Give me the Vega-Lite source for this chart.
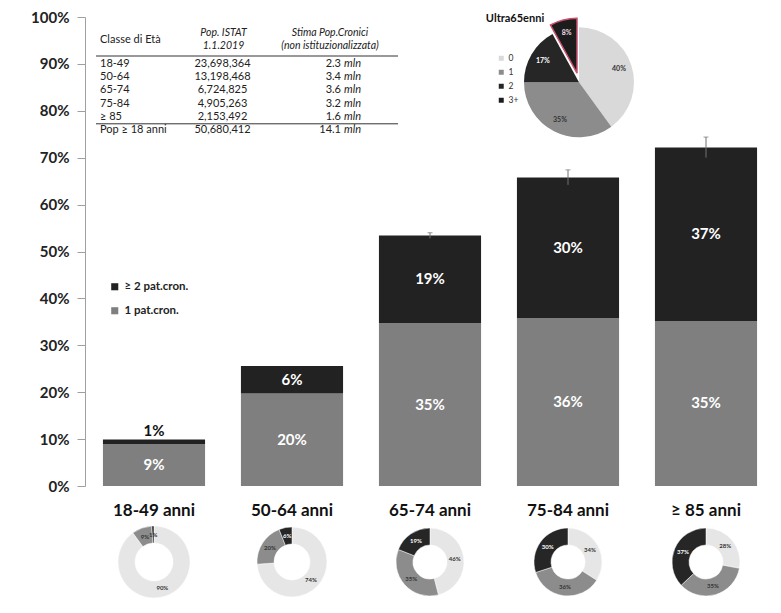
{
  "$schema": "https://vega.github.io/schema/vega-lite/v6.json",
  "width": 690,
  "height": 469,
  "autosize": {"type": "none"},
  "padding": {"left": 85, "top": 17, "right": 6, "bottom": 127},
  "background": "white",
  "config": {"view": {"stroke": null}, "font": "Lato", "text": {"font": "Lato"}},
  "datasets": {
    "bars": [
      {"age": "18-49 anni", "seg": "1 pat.cron.", "value": 0.089},
      {"age": "18-49 anni", "seg": "≥ 2 pat.cron.", "value": 0.010},
      {"age": "50-64 anni", "seg": "1 pat.cron.", "value": 0.197},
      {"age": "50-64 anni", "seg": "≥ 2 pat.cron.", "value": 0.059},
      {"age": "65-74 anni", "seg": "1 pat.cron.", "value": 0.347},
      {"age": "65-74 anni", "seg": "≥ 2 pat.cron.", "value": 0.187},
      {"age": "75-84 anni", "seg": "1 pat.cron.", "value": 0.358},
      {"age": "75-84 anni", "seg": "≥ 2 pat.cron.", "value": 0.300},
      {"age": "≥ 85 anni", "seg": "1 pat.cron.", "value": 0.352},
      {"age": "≥ 85 anni", "seg": "≥ 2 pat.cron.", "value": 0.370}
    ],
    "errs": [
      {"age": "65-74 anni", "lo": 0.528, "hi": 0.540},
      {"age": "75-84 anni", "lo": 0.642, "hi": 0.674},
      {"age": "≥ 85 anni", "lo": 0.700, "hi": 0.744}
    ],
    "donuts": [
      {"age": "18-49 anni", "k": "0", "value": 0.90},
      {"age": "18-49 anni", "k": "1", "value": 0.09},
      {"age": "18-49 anni", "k": "≥2", "value": 0.01},
      {"age": "50-64 anni", "k": "0", "value": 0.74},
      {"age": "50-64 anni", "k": "1", "value": 0.20},
      {"age": "50-64 anni", "k": "≥2", "value": 0.06},
      {"age": "65-74 anni", "k": "0", "value": 0.46},
      {"age": "65-74 anni", "k": "1", "value": 0.35},
      {"age": "65-74 anni", "k": "≥2", "value": 0.19},
      {"age": "75-84 anni", "k": "0", "value": 0.34},
      {"age": "75-84 anni", "k": "1", "value": 0.36},
      {"age": "75-84 anni", "k": "≥2", "value": 0.30},
      {"age": "≥ 85 anni", "k": "0", "value": 0.28},
      {"age": "≥ 85 anni", "k": "1", "value": 0.35},
      {"age": "≥ 85 anni", "k": "≥2", "value": 0.37}
    ],
    "pie": [
      {"k": "0", "value": 0.40},
      {"k": "1", "value": 0.35},
      {"k": "2", "value": 0.17},
      {"k": "3+", "value": 0.08}
    ],
    "table": [
      {"classe": "18-49", "pop": "23,698,364", "stima": 2.3},
      {"classe": "50-64", "pop": "13,198,468", "stima": 3.4},
      {"classe": "65-74", "pop": "6,724,825", "stima": 3.6},
      {"classe": "75-84", "pop": "4,905,263", "stima": 3.2},
      {"classe": "≥ 85", "pop": "2,153,492", "stima": 1.6},
      {"classe": "Pop ≥ 18 anni", "pop": "50,680,412", "stima": 14.1}
    ],
    "header": [
      {"col": "c1", "txt": "Classe di Età"},
      {"col": "c2", "txt": "Pop. ISTAT\n1.1.2019"},
      {"col": "c3", "txt": "Stima Pop.Cronici\n(non istituzionalizzata)"}
    ]
  },
  "layer": [
    {
      "layer": [
        {
          "data": {"name": "bars"},
          "mark": {"type": "bar"},
          "encoding": {
            "x": {"field": "age", "type": "nominal", "title": null,
              "scale": {"domain": ["18-49 anni", "50-64 anni", "65-74 anni", "75-84 anni", "≥ 85 anni"], "paddingInner": 0.26, "paddingOuter": 0.13},
              "axis": {"title": null, "domain": false, "ticks": false, "labelAngle": 0, "labelFont": "Lato", "labelFontWeight": "bold", "labelFontSize": 17, "labelColor": "#111", "labelPadding": 16}},
            "y": {"field": "value", "type": "quantitative", "stack": "zero", "title": null,
              "scale": {"domain": [0, 1], "nice": false},
              "axis": {"title": null, "format": ".0%", "values": [0, 0.1, 0.2, 0.3, 0.4, 0.5, 0.6, 0.7, 0.8, 0.9, 1], "grid": false, "labelFont": "Lato", "labelFontWeight": "bold", "labelFontSize": 15, "labelColor": "#222", "domainColor": "#a0a0a0", "tickColor": "#a0a0a0", "tickSize": 8, "labelPadding": 8}},
            "color": {"field": "seg", "type": "nominal",
              "scale": {"domain": ["≥ 2 pat.cron.", "1 pat.cron."], "range": ["#222222", "#7f7f7f"]},
              "legend": {"orient": "none", "legendX": 24, "legendY": 264, "title": null, "symbolType": "square", "symbolSize": 50, "symbolStrokeWidth": 0, "labelFont": "Lato", "labelFontWeight": "bold", "labelFontSize": 11.5, "labelColor": "#222", "rowPadding": 11}},
            "order": {"field": "seg", "type": "nominal"}
          }
        },
        {
          "data": {"name": "bars"},
          "mark": {"type": "text", "font": "Lato", "fontWeight": "bold", "fontSize": 15, "color": "white", "baseline": "middle"},
          "encoding": {
            "x": {"field": "age", "type": "nominal", "title": null},
            "y": {"field": "value", "type": "quantitative", "stack": "zero", "bandPosition": 0.5, "title": null},
            "detail": {"field": "seg"},
            "order": {"field": "seg", "type": "nominal"},
            "text": {"condition": {"test": "datum.age === '18-49 anni' && datum.seg === '≥ 2 pat.cron.'", "value": ""}, "field": "value", "type": "quantitative", "format": ".0%"}
          }
        },
        {
          "data": {"name": "bars"},
          "mark": {"type": "text", "font": "Lato", "fontWeight": "bold", "fontSize": 15, "color": "#111", "baseline": "middle", "dy": -9},
          "encoding": {
            "x": {"field": "age", "type": "nominal", "title": null},
            "y": {"field": "value", "type": "quantitative", "stack": "zero", "bandPosition": 1, "title": null},
            "detail": {"field": "seg"},
            "order": {"field": "seg", "type": "nominal"},
            "text": {"condition": {"test": "!(datum.age === '18-49 anni' && datum.seg === '≥ 2 pat.cron.')", "value": ""}, "field": "value", "type": "quantitative", "format": ".0%"}
          }
        },
        {
          "data": {"name": "errs"},
          "mark": {"type": "rule", "color": "#707070", "strokeWidth": 1},
          "encoding": {
            "x": {"field": "age", "type": "nominal", "title": null},
            "y": {"field": "lo", "type": "quantitative", "title": null},
            "y2": {"field": "hi"}
          }
        },
        {
          "data": {"name": "errs"},
          "mark": {"type": "tick", "color": "#707070", "thickness": 1, "size": 5},
          "encoding": {
            "x": {"field": "age", "type": "nominal", "title": null},
            "y": {"field": "hi", "type": "quantitative", "title": null}
          }
        },
        {
          "data": {"name": "donuts"},
          "transform": [{"filter": "datum.age === '18-49 anni'"}],
          "layer": [
            {"mark": {"type": "arc", "radius": 36, "innerRadius": 19, "stroke": "white", "strokeWidth": 0.5},
             "encoding": {"x": {"field": "age", "type": "nominal", "title": null}, "y": {"datum": -0.162}, "theta": {"field": "value", "type": "quantitative", "stack": true}, "color": {"field": "k", "type": "nominal", "scale": {"domain": ["0", "1", "≥2"], "range": ["#e6e6e6", "#8c8c8c", "#262626"]}, "legend": null}, "order": {"field": "k", "type": "nominal"}}},
            {"mark": {"type": "text", "radius": 27, "fontSize": 6, "fontWeight": "bold", "font": "Lato", "baseline": "middle"},
             "encoding": {"x": {"field": "age", "type": "nominal", "title": null}, "y": {"datum": -0.162}, "theta": {"field": "value", "type": "quantitative", "stack": true}, "detail": {"field": "k"}, "order": {"field": "k", "type": "nominal"}, "text": {"field": "value", "type": "quantitative", "format": ".0%"}, "color": {"condition": {"test": "datum.k === '≥2' && datum.value >= 0.05", "value": "white"}, "value": "#333333"}}}
          ]
        },
        {
          "data": {"name": "donuts"},
          "transform": [{"filter": "datum.age === '50-64 anni'"}],
          "layer": [
            {"mark": {"type": "arc", "radius": 35, "innerRadius": 18, "stroke": "white", "strokeWidth": 0.5},
             "encoding": {"x": {"field": "age", "type": "nominal", "title": null}, "y": {"datum": -0.162}, "theta": {"field": "value", "type": "quantitative", "stack": true}, "color": {"field": "k", "type": "nominal", "scale": {"domain": ["0", "1", "≥2"], "range": ["#e6e6e6", "#8c8c8c", "#262626"]}, "legend": null}, "order": {"field": "k", "type": "nominal"}}},
            {"mark": {"type": "text", "radius": 26, "fontSize": 6, "fontWeight": "bold", "font": "Lato", "baseline": "middle"},
             "encoding": {"x": {"field": "age", "type": "nominal", "title": null}, "y": {"datum": -0.162}, "theta": {"field": "value", "type": "quantitative", "stack": true}, "detail": {"field": "k"}, "order": {"field": "k", "type": "nominal"}, "text": {"field": "value", "type": "quantitative", "format": ".0%"}, "color": {"condition": {"test": "datum.k === '≥2' && datum.value >= 0.05", "value": "white"}, "value": "#333333"}}}
          ]
        },
        {
          "data": {"name": "donuts"},
          "transform": [{"filter": "datum.age === '65-74 anni'"}],
          "layer": [
            {"mark": {"type": "arc", "radius": 34, "innerRadius": 17, "stroke": "white", "strokeWidth": 0.5},
             "encoding": {"x": {"field": "age", "type": "nominal", "title": null}, "y": {"datum": -0.162}, "theta": {"field": "value", "type": "quantitative", "stack": true}, "color": {"field": "k", "type": "nominal", "scale": {"domain": ["0", "1", "≥2"], "range": ["#e6e6e6", "#8c8c8c", "#262626"]}, "legend": null}, "order": {"field": "k", "type": "nominal"}}},
            {"mark": {"type": "text", "radius": 25, "fontSize": 6, "fontWeight": "bold", "font": "Lato", "baseline": "middle"},
             "encoding": {"x": {"field": "age", "type": "nominal", "title": null}, "y": {"datum": -0.162}, "theta": {"field": "value", "type": "quantitative", "stack": true}, "detail": {"field": "k"}, "order": {"field": "k", "type": "nominal"}, "text": {"field": "value", "type": "quantitative", "format": ".0%"}, "color": {"condition": {"test": "datum.k === '≥2' && datum.value >= 0.05", "value": "white"}, "value": "#333333"}}}
          ]
        },
        {
          "data": {"name": "donuts"},
          "transform": [{"filter": "datum.age === '75-84 anni'"}],
          "layer": [
            {"mark": {"type": "arc", "radius": 34, "innerRadius": 17, "stroke": "white", "strokeWidth": 0.5},
             "encoding": {"x": {"field": "age", "type": "nominal", "title": null}, "y": {"datum": -0.162}, "theta": {"field": "value", "type": "quantitative", "stack": true}, "color": {"field": "k", "type": "nominal", "scale": {"domain": ["0", "1", "≥2"], "range": ["#e6e6e6", "#8c8c8c", "#262626"]}, "legend": null}, "order": {"field": "k", "type": "nominal"}}},
            {"mark": {"type": "text", "radius": 25, "fontSize": 6, "fontWeight": "bold", "font": "Lato", "baseline": "middle"},
             "encoding": {"x": {"field": "age", "type": "nominal", "title": null}, "y": {"datum": -0.162}, "theta": {"field": "value", "type": "quantitative", "stack": true}, "detail": {"field": "k"}, "order": {"field": "k", "type": "nominal"}, "text": {"field": "value", "type": "quantitative", "format": ".0%"}, "color": {"condition": {"test": "datum.k === '≥2' && datum.value >= 0.05", "value": "white"}, "value": "#333333"}}}
          ]
        },
        {
          "data": {"name": "donuts"},
          "transform": [{"filter": "datum.age === '≥ 85 anni'"}],
          "layer": [
            {"mark": {"type": "arc", "radius": 34, "innerRadius": 17, "stroke": "white", "strokeWidth": 0.5},
             "encoding": {"x": {"field": "age", "type": "nominal", "title": null}, "y": {"datum": -0.162}, "theta": {"field": "value", "type": "quantitative", "stack": true}, "color": {"field": "k", "type": "nominal", "scale": {"domain": ["0", "1", "≥2"], "range": ["#e6e6e6", "#8c8c8c", "#262626"]}, "legend": null}, "order": {"field": "k", "type": "nominal"}}},
            {"mark": {"type": "text", "radius": 25, "fontSize": 6, "fontWeight": "bold", "font": "Lato", "baseline": "middle"},
             "encoding": {"x": {"field": "age", "type": "nominal", "title": null}, "y": {"datum": -0.162}, "theta": {"field": "value", "type": "quantitative", "stack": true}, "detail": {"field": "k"}, "order": {"field": "k", "type": "nominal"}, "text": {"field": "value", "type": "quantitative", "format": ".0%"}, "color": {"condition": {"test": "datum.k === '≥2' && datum.value >= 0.05", "value": "white"}, "value": "#333333"}}}
          ]
        },
        {
          "data": {"name": "pie"},
          "layer": [
            {"mark": {"type": "arc", "radius": 55, "xOffset": 11},
             "encoding": {"x": {"datum": "75-84 anni"}, "y": {"datum": 0.861}, "theta": {"field": "value", "type": "quantitative", "stack": true},
               "color": {"field": "k", "type": "nominal", "scale": {"domain": ["0", "1", "2", "3+"], "range": ["#d9d9d9", "#8c8c8c", "#262626", "#1c1c1c"]},
                 "legend": {"orient": "none", "legendX": 412, "legendY": 37, "title": null, "symbolType": "square", "symbolSize": 25, "symbolStrokeWidth": 0, "labelFont": "Lato", "labelFontSize": 8.5, "labelColor": "#333", "labelOffset": 3, "rowPadding": 5}},
               "order": {"field": "k", "type": "nominal"},
               "opacity": {"condition": {"test": "datum.k === '3+'", "value": 0}, "value": 1}}},
            {"mark": {"type": "arc", "radius": 55, "xOffset": 9, "yOffset": -9, "stroke": "#c8506e", "strokeWidth": 1.5},
             "encoding": {"x": {"datum": "75-84 anni"}, "y": {"datum": 0.861}, "theta": {"field": "value", "type": "quantitative", "stack": true},
               "color": {"field": "k", "type": "nominal"},
               "order": {"field": "k", "type": "nominal"},
               "opacity": {"condition": {"test": "datum.k !== '3+'", "value": 0}, "value": 1}}},
            {"mark": {"type": "text", "radius": 42, "xOffset": 11, "fontSize": 7, "fontWeight": "bold", "font": "Lato", "baseline": "middle"},
             "encoding": {"x": {"datum": "75-84 anni"}, "y": {"datum": 0.861}, "theta": {"field": "value", "type": "quantitative", "stack": true},
               "detail": {"field": "k"}, "order": {"field": "k", "type": "nominal"},
               "text": {"condition": {"test": "datum.k === '3+'", "value": ""}, "field": "value", "type": "quantitative", "format": ".0%"},
               "color": {"condition": {"test": "datum.k === '2'", "value": "white"}, "value": "#333333"}}},
            {"mark": {"type": "text", "radius": 42, "xOffset": 9, "yOffset": -9, "fontSize": 7, "fontWeight": "bold", "font": "Lato", "baseline": "middle", "color": "#f0dde2"},
             "encoding": {"x": {"datum": "75-84 anni"}, "y": {"datum": 0.861}, "theta": {"field": "value", "type": "quantitative", "stack": true},
               "detail": {"field": "k"}, "order": {"field": "k", "type": "nominal"},
               "text": {"condition": {"test": "datum.k !== '3+'", "value": ""}, "field": "value", "type": "quantitative", "format": ".0%"}}},
            {"data": {"values": [{"title": "Ultra65enni"}]},
             "mark": {"type": "text", "dx": -53, "dy": -63, "fontSize": 11, "fontWeight": "bold", "font": "Lato", "color": "#111", "align": "center", "baseline": "middle"},
             "encoding": {"x": {"datum": "75-84 anni"}, "y": {"datum": 0.861}, "text": {"field": "title"}}}
          ]
        }
      ],
      "resolve": {"scale": {"color": "independent"}}
    },
    {
      "data": {"name": "table"},
      "layer": [
        {"mark": {"type": "text", "align": "left", "baseline": "middle", "fontSize": 11, "font": "Lato", "color": "#222"},
         "encoding": {
           "x": {"datum": "c1", "scale": {"type": "point", "domain": ["c1", "c2", "c3"], "range": [15, 256], "padding": 0}, "axis": null},
           "y": {"field": "classe", "type": "nominal", "scale": {"type": "point", "domain": ["18-49", "50-64", "65-74", "75-84", "≥ 85", "Pop ≥ 18 anni"], "range": [47, 113], "padding": 0}, "axis": null},
           "text": {"field": "classe"}}},
        {"mark": {"type": "text", "align": "center", "baseline": "middle", "fontSize": 11, "font": "Lato", "color": "#222", "dx": 2},
         "encoding": {"x": {"datum": "c2", "axis": null}, "y": {"field": "classe", "type": "nominal", "axis": null}, "text": {"field": "pop"}}},
        {"mark": {"type": "text", "align": "right", "baseline": "middle", "fontSize": 11, "font": "Lato", "color": "#222"},
         "encoding": {"x": {"datum": "c3", "axis": null}, "y": {"field": "classe", "type": "nominal", "axis": null}, "text": {"field": "stima", "type": "quantitative", "format": ".1f"}}},
        {"mark": {"type": "text", "align": "left", "baseline": "middle", "fontSize": 11, "font": "Lato", "fontStyle": "italic", "color": "#222", "dx": 3},
         "encoding": {"x": {"datum": "c3", "axis": null}, "y": {"field": "classe", "type": "nominal", "axis": null}, "text": {"value": "mln"}}},
        {"data": {"name": "header"},
         "transform": [{"filter": "datum.col === 'c1'"}],
         "mark": {"type": "text", "align": "left", "baseline": "middle", "fontSize": 11, "font": "Lato", "color": "#222", "dy": -24},
         "encoding": {"x": {"field": "col", "type": "nominal", "axis": null}, "y": {"datum": "18-49", "axis": null}, "text": {"field": "txt"}}},
        {"data": {"name": "header"},
         "transform": [{"filter": "datum.col === 'c2'"}],
         "mark": {"type": "text", "align": "center", "baseline": "middle", "fontSize": 10.5, "font": "Lato", "fontStyle": "italic", "color": "#222", "dy": -31, "dx": 3, "lineBreak": "\n", "lineHeight": 13},
         "encoding": {"x": {"field": "col", "type": "nominal", "axis": null}, "y": {"datum": "18-49", "axis": null}, "text": {"field": "txt"}}},
        {"data": {"name": "header"},
         "transform": [{"filter": "datum.col === 'c3'"}],
         "mark": {"type": "text", "align": "center", "baseline": "middle", "fontSize": 10.5, "font": "Lato", "fontStyle": "italic", "color": "#222", "dy": -31, "dx": -11, "lineBreak": "\n", "lineHeight": 13},
         "encoding": {"x": {"field": "col", "type": "nominal", "axis": null}, "y": {"datum": "18-49", "axis": null}, "text": {"field": "txt"}}},
        {"data": {"values": [{"a": "c1", "b": "c3"}]},
         "mark": {"type": "rule", "color": "#333", "strokeWidth": 1, "xOffset": -4, "x2Offset": 57, "yOffset": -8},
         "encoding": {"x": {"field": "a", "type": "nominal", "axis": null}, "x2": {"field": "b"}, "y": {"datum": "18-49", "axis": null}}},
        {"data": {"values": [{"a": "c1", "b": "c3"}]},
         "mark": {"type": "rule", "color": "#333", "strokeWidth": 1, "xOffset": -4, "x2Offset": 57, "yOffset": 7},
         "encoding": {"x": {"field": "a", "type": "nominal", "axis": null}, "x2": {"field": "b"}, "y": {"datum": "≥ 85", "axis": null}}}
      ]
    }
  ],
  "resolve": {"scale": {"x": "independent", "y": "independent", "color": "independent"}}
}
